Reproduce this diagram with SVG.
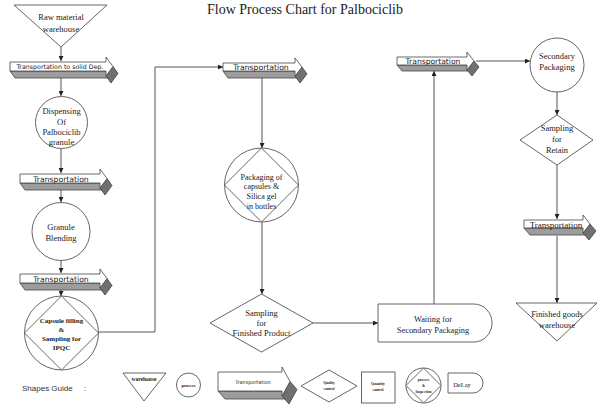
<svg xmlns="http://www.w3.org/2000/svg" width="597" height="410" viewBox="0 0 597 410">
<defs>
<marker id="ah" markerWidth="5" markerHeight="5" refX="5" refY="2.5" orient="auto" markerUnits="userSpaceOnUse">
<path d="M0,0 L5,2.5 L0,5 z" fill="#222"/>
</marker>
</defs>
<style>
.sh{fill:#fff;stroke:#555;stroke-width:0.9}
.ln{fill:none;stroke:#555;stroke-width:1}
.front{fill:#fff;stroke:#444;stroke-width:0.8}
.band{fill:#9c9c9c;stroke:#444;stroke-width:0.8}
.dark{fill:#707070;stroke:#444;stroke-width:0.8}
.t{font-family:"Liberation Serif","Times New Roman",serif;fill:#222;text-anchor:middle}
.s{font-family:"DejaVu Sans",Verdana,sans-serif;fill:#222;text-anchor:middle}
</style>
<rect width="597" height="410" fill="#fff"/>
<text class="t" x="305" y="14" font-size="14">Flow Process Chart for Palbociclib</text>

<g id="connectors">
<path class="ln" d="M61,47 V61" marker-end="url(#ah)"/>
<path class="ln" d="M61,78 V96" marker-end="url(#ah)"/>
<path class="ln" d="M61,148 V173" marker-end="url(#ah)"/>
<path class="ln" d="M61,190 V202" marker-end="url(#ah)"/>
<path class="ln" d="M61,261 V273" marker-end="url(#ah)"/>
<path class="ln" d="M61,290 V296" marker-end="url(#ah)"/>
<path class="ln" d="M98.5,332 H155 V67 H223" marker-end="url(#ah)"/>
<path class="ln" d="M262,78 V148" marker-end="url(#ah)"/>
<path class="ln" d="M262,222 V294" marker-end="url(#ah)"/>
<path class="ln" d="M313,323 H378" marker-end="url(#ah)"/>
<path class="ln" d="M434,304 V71" marker-end="url(#ah)"/>
<path class="ln" d="M476,61 H530" marker-end="url(#ah)"/>
<path class="ln" d="M557,91 V115" marker-end="url(#ah)"/>
<path class="ln" d="M557,165 V219" marker-end="url(#ah)"/>
<path class="ln" d="M557,236 V303" marker-end="url(#ah)"/>
</g>

<g id="raw-material-warehouse">
<polygon class="sh" points="14,5 107,5 61,47"/>
<text class="t" x="61" y="20" font-size="8.5">Raw material</text>
<text class="t" x="61" y="31.5" font-size="8.5">warehouse</text>
</g>

<g id="transport-solid">
<polygon class="band" points="10,71 106,71 111,78 15,78"/>
<polygon class="dark" points="113,66.5 106,76 111,83 118,73.5"/>
<polygon class="front" points="10,62 106,62 106,57 113,66.5 106,76 106,71 10,71"/>
<text class="s" x="60" y="69" font-size="6.3">Transportation to solid Dep.</text>
</g>

<g id="dispensing">
<circle class="sh" cx="61.5" cy="122.5" r="26"/>
<text class="t" x="61.5" y="114" font-size="8.5">Dispensing</text>
<text class="t" x="61.5" y="124.5" font-size="8.5">Of</text>
<text class="t" x="61.5" y="135" font-size="8.5">Palbociclib</text>
<text class="t" x="61.5" y="145" font-size="8.5">granule</text>
</g>

<g id="transport-2">
<polygon class="band" points="20,183 100,183 105,190 25,190"/>
<polygon class="dark" points="107,178.5 100,188 105,195 112,185.5"/>
<polygon class="front" points="20,174 100,174 100,169 107,178.5 100,188 100,183 20,183"/>
<text class="s" x="61" y="181.5" font-size="7.7">Transportation</text>
</g>

<g id="granule-blending">
<circle class="sh" cx="61" cy="231.5" r="29"/>
<text class="t" x="61" y="230" font-size="8.5">Granule</text>
<text class="t" x="61" y="240.5" font-size="8.5">Blending</text>
</g>

<g id="transport-3">
<polygon class="band" points="20,283 100,283 105,290 25,290"/>
<polygon class="dark" points="107,278.5 100,288 105,295 112,285.5"/>
<polygon class="front" points="20,274 100,274 100,269 107,278.5 100,288 100,283 20,283"/>
<text class="s" x="61" y="281.5" font-size="7.7">Transportation</text>
</g>

<g id="capsule-filling">
<circle class="sh" cx="61.5" cy="333" r="37"/>
<polygon class="sh" points="61.5,296 98.5,333 61.5,370 24.5,333"/>
<text class="t" x="61.5" y="323" font-size="7" font-weight="bold">Capsule filling</text>
<text class="t" x="61.5" y="332" font-size="7" font-weight="bold">&amp;</text>
<text class="t" x="61.5" y="341" font-size="7" font-weight="bold">Sampling for</text>
<text class="t" x="61.5" y="350" font-size="7" font-weight="bold">IPQC</text>
</g>

<g id="transport-middle">
<polygon class="band" points="223,71 295,71 300,78 228,78"/>
<polygon class="dark" points="302,67 295,76 300,83 307,74"/>
<polygon class="front" points="223,63 295,63 295,58 302,67 295,76 295,71 223,71"/>
<text class="s" x="261" y="70" font-size="7.7">Transportation</text>
</g>

<g id="packaging">
<circle class="sh" cx="261.5" cy="185" r="37"/>
<polygon class="sh" points="261.5,148 298.5,185 261.5,222 224.5,185"/>
<text class="t" x="261.5" y="179.5" font-size="8">Packaging of</text>
<text class="t" x="261.5" y="189" font-size="8">capsules &amp;</text>
<text class="t" x="261.5" y="198.5" font-size="8">Silica gel</text>
<text class="t" x="261.5" y="208.5" font-size="8">in bottles</text>
</g>

<g id="sampling-finished">
<polygon class="sh" points="261.5,294 313,323 261.5,352 210,323"/>
<text class="t" x="261.5" y="316" font-size="8.5">Sampling</text>
<text class="t" x="261.5" y="325.5" font-size="8.5">for</text>
<text class="t" x="261.5" y="335.5" font-size="8.5">Finished Product</text>
</g>

<g id="waiting">
<path class="sh" d="M378,304 H474 A18,19 0 0 1 474,342 H378 Z"/>
<text class="t" x="433" y="322" font-size="8.4">Waiting for</text>
<text class="t" x="433" y="333" font-size="8.4">Secondary Packaging</text>
</g>

<g id="transport-right-top">
<polygon class="band" points="397,65 467,65 472,71 402,71"/>
<polygon class="dark" points="474,61 467,70 472,76 479,67"/>
<polygon class="front" points="397,57 467,57 467,52 474,61 467,70 467,65 397,65"/>
<text class="s" x="433" y="64" font-size="7.6">Transportation</text>
</g>

<g id="secondary-packaging">
<circle class="sh" cx="557" cy="65" r="27"/>
<text class="t" x="557" y="58.5" font-size="8.5">Secondary</text>
<text class="t" x="557" y="69.5" font-size="8.5">Packaging</text>
</g>

<g id="sampling-retain">
<polygon class="sh" points="557,115 593,140 557,165 520,140"/>
<text class="t" x="557" y="131" font-size="8.5">Sampling</text>
<text class="t" x="557" y="142" font-size="8.5">for</text>
<text class="t" x="557" y="153" font-size="8.5">Retain</text>
</g>

<g id="transport-right-bottom">
<polygon class="band" points="524,228 583,228 589,235 530,235"/>
<polygon class="dark" points="590,224 583,233 589,240 596,231"/>
<polygon class="front" points="524,220 583,220 583,215 590,224 583,233 583,228 524,228"/>
<text class="t" x="556" y="227.5" font-size="9">Transportation</text>
</g>

<g id="finished-goods-warehouse">
<polygon class="sh" points="516,303 597,303 557,341"/>
<text class="t" x="557" y="317" font-size="8.5">Finished goods</text>
<text class="t" x="557" y="327.5" font-size="8.5">warehouse</text>
</g>

<g id="shapes-guide">
<text x="22" y="391" font-family="Liberation Sans, Arial, sans-serif" font-size="8" fill="#333">Shapes Guide</text>
<text x="84" y="391" font-family="Liberation Sans, Arial, sans-serif" font-size="8" fill="#333">:</text>
</g>

<g id="guide-warehouse">
<polygon class="sh" points="123,373 166,373 144,401"/>
<text class="t" x="144" y="381" font-size="5.5" font-weight="bold">warehouse</text>
</g>

<g id="guide-process">
<circle class="sh" cx="188.5" cy="385" r="12"/>
<text class="t" x="188.5" y="386.5" font-size="4.5" font-weight="bold">process</text>
</g>

<g id="guide-transportation">
<polygon class="band" points="218,391 282,391 289,399 225,399"/>
<polygon class="dark" points="290,381.5 282,396 289,404 297,389.5"/>
<polygon class="front" points="218,372 282,372 282,367 290,381.5 282,396 282,391 218,391"/>
<text class="s" x="253" y="383.5" font-size="4.9">Transportation</text>
</g>

<g id="guide-quality">
<polygon class="sh" points="329,370 357,386 329,402 301,386"/>
<text class="t" x="329" y="384" font-size="3.6" font-weight="bold">Quality</text>
<text class="t" x="329" y="389.5" font-size="3.6" font-weight="bold">control</text>
</g>

<g id="guide-quantity">
<rect class="sh" x="361.5" y="372" width="33.5" height="31"/>
<text class="t" x="378" y="385" font-size="3.6" font-weight="bold">Quantity</text>
<text class="t" x="378" y="391" font-size="3.6" font-weight="bold">control</text>
</g>

<g id="guide-process-inspection">
<circle class="sh" cx="423.5" cy="385.5" r="17.5"/>
<polygon class="sh" points="423.5,368 441,385.5 423.5,403 406,385.5"/>
<text class="t" x="423.5" y="381" font-size="3.6" font-weight="bold">process</text>
<text class="t" x="423.5" y="386.5" font-size="3.6" font-weight="bold">&amp;</text>
<text class="t" x="423.5" y="392.5" font-size="3.6" font-weight="bold">Inspection</text>
</g>

<g id="guide-delay">
<path class="sh" d="M448,373 H473 A10,10 0 0 1 473,393 H448 Z"/>
<text class="t" x="462" y="387" font-size="6.5">DeLay</text>
</g>
</svg>
